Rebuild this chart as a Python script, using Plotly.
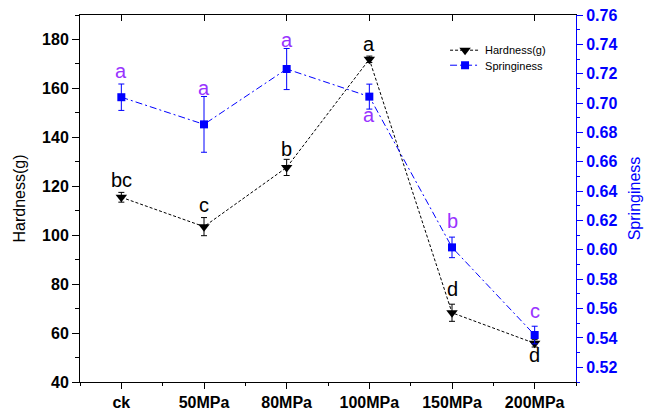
import plotly.graph_objects as go

categories = ["ck", "50MPa", "80MPa", "100MPa", "150MPa", "200MPa"]
hardness = [115.5, 103.5, 127.7, 171.9, 68.3, 55.8]
hardness_err = [2.0, 3.7, 3.3, 1.3, 3.5, 1.5]
springiness = [0.704, 0.6855, 0.7232, 0.7044, 0.6017, 0.542]
springiness_err = [0.009, 0.019, 0.014, 0.0085, 0.007, 0.006]
hardness_letters = ["bc", "c", "b", "a", "d", "d"]
springiness_letters = ["a", "a", "a", "a", "b", "c"]

# label offsets in pixels (positive = up)
hardness_shift = [17, 22, 18, 15, 24, -12]
springiness_shift = [26, 36, 29, -18, 26, 24]

FONT = "Arial, Liberation Sans, sans-serif"
BLUE = "#0000FF"
PURPLE = "#9933FF"

xpos = list(range(len(categories)))

fig = go.Figure()

fig.add_trace(go.Scatter(
    x=xpos, y=hardness, name="Hardness(g)", mode="lines+markers",
    line=dict(color="black", width=1, dash="3px,2px"),
    marker=dict(symbol="triangle-down", size=10, color="black"),
    error_y=dict(type="data", array=hardness_err, color="black", thickness=1, width=3),
    xaxis="x", yaxis="y", legend="legend",
))
fig.add_trace(go.Scatter(
    x=xpos, y=springiness, name="Springiness", mode="lines+markers",
    line=dict(color=BLUE, width=1, dash="7px,3px,2px,3px"),
    marker=dict(symbol="square", size=8, color=BLUE),
    error_y=dict(type="data", array=springiness_err, color=BLUE, thickness=1, width=3),
    xaxis="x", yaxis="y2", legend="legend2",
))
# invisible trace to anchor the top frame axis
fig.add_trace(go.Scatter(
    x=xpos, y=hardness, mode="markers", marker=dict(opacity=0),
    showlegend=False, hoverinfo="skip", xaxis="x2", yaxis="y",
))

annotations = []
for i, (v, t, s) in enumerate(zip(hardness, hardness_letters, hardness_shift)):
    annotations.append(dict(x=i, y=v, xref="x", yref="y", text=t, showarrow=False,
                            yshift=s, font=dict(family=FONT, size=20, color="black"),
                            xanchor="center", yanchor="middle"))
for i, (v, t, s) in enumerate(zip(springiness, springiness_letters, springiness_shift)):
    annotations.append(dict(x=i, y=v, xref="x", yref="y2", text=t, showarrow=False,
                            yshift=s, font=dict(family=FONT, size=20, color=PURPLE),
                            xanchor="center", yanchor="middle"))

legend_font = dict(family=FONT, size=11, color="black")

fig.update_layout(
    width=649, height=413,
    margin=dict(l=80, r=73, t=15, b=31, autoexpand=False),
    paper_bgcolor="white", plot_bgcolor="white",
    font=dict(family=FONT, color="black"),
    showlegend=True,
    legend=dict(x=0.736, y=0.9436, xanchor="left", yanchor="top",
                bgcolor="rgba(0,0,0,0)", font=legend_font),
    legend2=dict(x=0.736, y=0.9027, xanchor="left", yanchor="top",
                 bgcolor="rgba(0,0,0,0)", font=legend_font),
    xaxis=dict(
        range=[-0.5, 5.5], tickmode="array", tickvals=xpos, ticktext=categories,
        ticks="outside", ticklen=6, tickwidth=1, tickcolor="black",
        showline=True, linecolor="black", linewidth=1, automargin=False,
        showgrid=False, zeroline=False,
        tickfont=dict(family=FONT, size=16, color="black", weight="bold"),
        minor=dict(tickmode="linear", tick0=0.5, dtick=1, ticklen=3, ticks="outside",
                   tickcolor="black", showgrid=False),
    ),
    xaxis2=dict(
        overlaying="x", side="top", range=[-0.5, 5.5], tickmode="array", tickvals=xpos,
        ticks="inside", ticklen=6, tickcolor="black", showticklabels=False, automargin=False,
        showline=True, linecolor="black", linewidth=1, showgrid=False, zeroline=False,
    ),
    yaxis=dict(
        range=[40, 190], tickmode="linear", tick0=40, dtick=20,
        ticks="outside", ticklen=7, tickcolor="black", automargin=False,
        showline=True, linecolor="black", linewidth=1, showgrid=False, zeroline=False,
        tickfont=dict(family=FONT, size=16, color="black", weight="bold"),
        minor=dict(tickmode="linear", tick0=50, dtick=20, ticklen=4, ticks="outside",
                   tickcolor="black", showgrid=False),
        title=dict(text="Hardness(g)", font=dict(family=FONT, size=16, color="black"), standoff=12),
    ),
    yaxis2=dict(
        overlaying="y", side="right", range=[0.51, 0.76], tickmode="linear", tick0=0.52, dtick=0.02,
        tickformat=".2f", automargin=False,
        ticks="outside", ticklen=6, tickcolor=BLUE,
        showline=True, linecolor=BLUE, linewidth=1, showgrid=False, zeroline=False,
        tickfont=dict(family=FONT, size=16, color=BLUE, weight="bold"),
        minor=dict(tickmode="linear", tick0=0.51, dtick=0.02, ticklen=3, ticks="outside",
                   tickcolor=BLUE, showgrid=False),
        title=dict(text="Springiness", font=dict(family=FONT, size=16, color=BLUE), standoff=12),
    ),
    annotations=annotations,
)

fig.write_html("out.html")
